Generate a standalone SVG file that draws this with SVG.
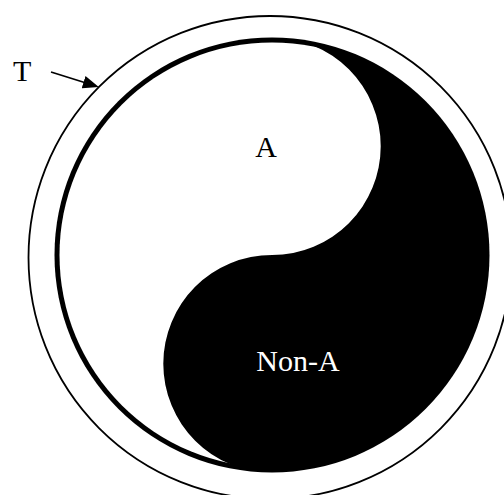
<svg xmlns="http://www.w3.org/2000/svg" width="504" height="495" viewBox="0 0 504 495">
  <style>
    .lbl { font-family: "Liberation Serif", "Times New Roman", serif; font-size: 30px; }
    .outline { fill: none; stroke: #000; stroke-width: 1.8; }
    .conn { fill: none; stroke: #000; stroke-width: 1.8; }
  </style>
  <defs>
    <clipPath id="innerClip">
      <circle cx="272" cy="255" r="212.5"/>
    </clipPath>
    <marker id="arrowhead" markerUnits="userSpaceOnUse" markerWidth="17" markerHeight="13" refX="1" refY="6.5" orient="auto">
      <path d="M0,0 L16,6.5 L0,13 Z" fill="#000"/>
    </marker>
    <filter id="soft" x="-5%" y="-5%" width="110%" height="110%">
      <feGaussianBlur stdDeviation="0.6"/>
    </filter>
  </defs>
  <rect width="504" height="495" fill="#fff"/>

  <g id="T-circle">
    <circle class="outline" cx="270" cy="257.5" r="241.5"/>
  </g>

  <g id="yinyang" filter="url(#soft)">
    <circle cx="272" cy="255" r="217.5" fill="#000"/>
    <g clip-path="url(#innerClip)">
      <path d="M272,37.5 A108.5,108.5 0 0 1 272,255 A108.5,108.5 0 0 0 272,472.5 A217.5,217.5 0 0 1 272,37.5 Z" fill="#fff"/>
    </g>
  </g>

  <g id="A">
    <text class="lbl" x="266" y="157" text-anchor="middle" fill="#000">A</text>
  </g>
  <g id="Non-A">
    <text class="lbl" x="298" y="371" text-anchor="middle" fill="#fff">Non-A</text>
  </g>
  <g id="T">
    <text class="lbl" x="13" y="81" fill="#000">T</text>
  </g>

  <g id="connectors">
    <line class="conn" x1="51" y1="72" x2="84.5" y2="82.5" marker-end="url(#arrowhead)"/>
  </g>
</svg>
